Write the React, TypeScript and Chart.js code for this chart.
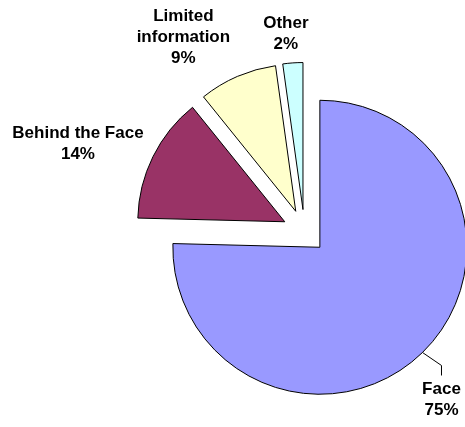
import React, { useEffect, useRef } from 'react';
import { Chart, registerables } from 'chart.js';

Chart.register(...registerables);

// ---- data ----
const categories = ['Face', 'Behind the Face', 'Limited information', 'Other'];
const categoryLines = [['Face'], ['Behind the Face'], ['Limited', 'information'], ['Other']];
const shares = [75.4, 13.8, 8.6, 2.2];
const sliceColors = ['#9999FF', '#993366', '#FFFFCC', '#CCFFFF'];

const FONT = 'bold 17px "Liberation Sans", Arial, sans-serif';
const LINE_H = 21;
const EXPLODE = 22;
// label block centre relative to the slice's outer mid point
const placements = [
  { dx: 19, dy: 47, leader: { bendDx: 19, bendDy: 13, endDy: 23 } },
  { dx: -75, dy: -13 },
  { dx: -54, dy: -39 },
  { dx: -7, dy: -29 },
];

const explodePlugin = {
  id: 'explodeSlices',
  beforeDatasetsDraw(chart: any) {
    const meta = chart.getDatasetMeta(0);
    const ctrl: any = meta.controller;
    const ca = chart.chartArea;
    const cx = (ca.left + ca.right) / 2 + (ctrl.offsetX || 0);
    const cy = (ca.top + ca.bottom) / 2 + (ctrl.offsetY || 0);
    meta.data.forEach((arc: any) => {
      const mid = (arc.startAngle + arc.endAngle) / 2;
      arc.x = cx + Math.cos(mid) * EXPLODE;
      arc.y = cy + Math.sin(mid) * EXPLODE;
    });
  },
};

const labelPlugin = {
  id: 'sliceLabels',
  afterDatasetsDraw(chart: any) {
    const ctx: CanvasRenderingContext2D = chart.ctx;
    const meta = chart.getDatasetMeta(0);
    const data: number[] = chart.data.datasets[0].data;
    const total = data.reduce((a, b) => a + b, 0);
    ctx.save();
    ctx.font = FONT;
    ctx.fillStyle = '#000';
    ctx.textAlign = 'center';
    ctx.textBaseline = 'middle';
    meta.data.forEach((arc: any, i: number) => {
      const mid = (arc.startAngle + arc.endAngle) / 2;
      const ox = arc.x + Math.cos(mid) * arc.outerRadius;
      const oy = arc.y + Math.sin(mid) * arc.outerRadius;
      const p = placements[i];
      const lines = [...categoryLines[i], Math.round((data[i] / total) * 100) + '%'];
      const bx = ox + p.dx;
      const by = oy + p.dy;
      lines.forEach((t, k) => {
        ctx.fillText(t, bx, by + (k - (lines.length - 1) / 2) * LINE_H);
      });
      if (p.leader) {
        ctx.beginPath();
        ctx.strokeStyle = '#000';
        ctx.lineWidth = 1;
        ctx.moveTo(ox, oy);
        ctx.lineTo(ox + p.leader.bendDx, oy + p.leader.bendDy);
        ctx.lineTo(ox + p.leader.bendDx, oy + p.leader.endDy);
        ctx.stroke();
      }
    });
    ctx.restore();
  },
};

export default function App() {
  const ref = useRef<HTMLCanvasElement | null>(null);
  useEffect(() => {
    if (!ref.current) return;
    const chart = new Chart(ref.current, {
      type: 'pie',
      data: {
        labels: categories,
        datasets: [
          {
            data: shares,
            backgroundColor: sliceColors,
            borderColor: '#000000',
            borderWidth: 1,
            borderJoinStyle: 'miter',
            radius: 147,
          } as any,
        ],
      },
      options: {
        responsive: false,
        animation: false,
        events: [],
        layout: { padding: { left: 144, right: 0, top: 36, bottom: 0 } },
        plugins: {
          legend: { display: false },
          tooltip: { enabled: false },
        },
      },
      plugins: [explodePlugin, labelPlugin],
    });
    return () => chart.destroy();
  }, []);
  return (
    <div style={{ position: 'fixed', left: 0, top: 0, width: 465, height: 427, background: '#fff' }}>
      <canvas ref={ref} width={465} height={427} style={{ display: 'block' }} />
    </div>
  );
}
